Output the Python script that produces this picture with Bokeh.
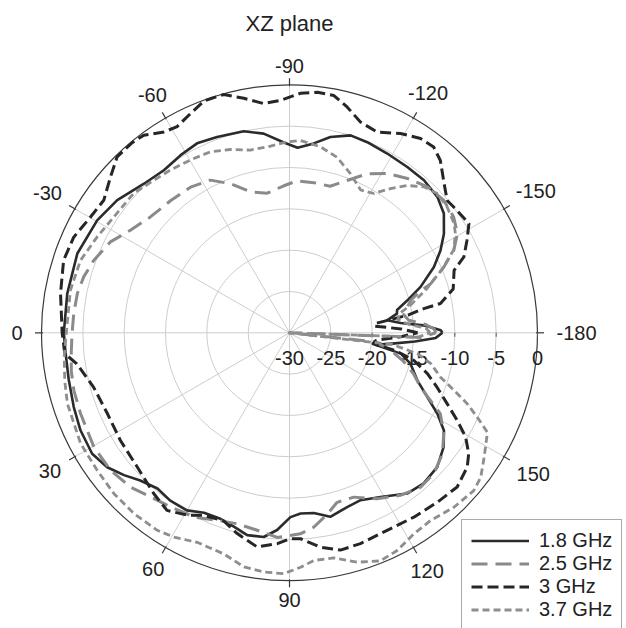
import numpy as np
from bokeh.plotting import figure
from bokeh.models import Range1d, Legend, LegendItem
from bokeh.core.properties import value
from bokeh.embed import file_html
from bokeh.resources import INLINE

# ---------------- data ----------------
title_text = "XZ plane"
r_ticks = [-30, -25, -20, -15, -10, -5, 0]
angle_ticks = [0, -30, -60, -90, -120, -150, -180, 150, 120, 90, 60, 30]
series_names = ["1.8 GHz", "2.5 GHz", "3 GHz", "3.7 GHz"]

theta_18 = [-180, -179, -177, -175, -172.7, -169.9, -168, -164.6, -160.7, -155.5,
            -151.4, -147.3, -142.3, -137.4, -131.4, -125.4, -118.6, -112.2, -107.2, -101.8,
            -97.3, -92.5, -88.5, -82.6, -77.2, -69.7, -64, -58.5, -52.3, -45.7,
            -37.6, -30.3, -20.5, -10, 0, 5, 12, 19, 25, 31.5,
            36.4, 40.7, 44.7, 49.7, 54.6, 60, 64.6, 69.6, 74, 78.2,
            82.8, 86.4, 90.3, 93.5, 97.7, 102.5, 108.3, 113, 119, 126.2,
            131.7, 137.7, 143.5, 147.7, 151.3, 155, 159.6, 165.7, 169.4, 172,
            174, 176, 178, 180]
db_18 = [-11.5, -11.7, -13.5, -16.5, -18.1, -16.8, -16.7, -15.2, -13.2, -10.8,
         -9.2, -7.8, -6.4, -5.7, -5.4, -5.4, -5.3, -5.1, -5.0, -5.8,
         -6.9, -7.6, -7.0, -5.7, -5.0, -4.75, -4.5, -4.8, -5.15, -4.8,
         -3.7, -3.05, -2.6, -2.7, -2.7, -2.8, -2.7, -2.4, -2.1, -2.0,
         -2.6, -3.6, -4.6, -5.3, -5.1, -5.2, -5.9, -6.0, -5.6, -5.0,
         -5.1, -6.1, -7.7, -8.1, -8.0, -7.2, -7.8, -8.0, -7.3, -5.9,
         -5.6, -5.85, -6.8, -7.9, -9.6, -11.6, -13.5, -14.9, -16.3, -19.5,
         -17.5, -14.8, -12.3, -11.5]

theta_25 = [-180, -178.5, -176.5, -174, -171, -168, -165, -162.9, -160.8, -156.9,
            -153.3, -149.4, -144.8, -139.4, -133.4, -127.4, -121.5, -116, -110.7, -105.5,
            -99.2, -92.8, -87.8, -80.9, -74.5, -68.4, -62.6, -55.8, -48.1, -39.8,
            -32.8, -26.9, -20.3, -15.2, -10.5, -5.1, 0, 5, 10, 15,
            21.2, 30.3, 37.6, 44.2, 49.8, 55.7, 62.6, 69, 74.7, 80.7,
            86.6, 93.1, 97.1, 101.8, 105.7, 111.4, 117.8, 124.3, 130.3, 135.7,
            141.6, 146.8, 151.8, 154.4, 157.4, 161.7, 166, 170, 174, 176.5,
            178, 180]
db_25 = [-12.3, -12.5, -13.5, -15.5, -16.0, -15.5, -14.8, -13.8, -11.9, -9.7,
         -7.75, -6.4, -5.7, -5.4, -5.7, -6.5, -7.4, -8.6, -10.3, -11.6,
         -11.6, -11.6, -12.2, -12.9, -12.3, -10.6, -9.2, -8.7, -8.5, -8.1,
         -7.1, -5.7, -4.75, -4.2, -3.9, -3.8, -3.7, -3.5, -3.2, -3.0,
         -2.9, -2.6, -2.7, -3.2, -4.0, -4.5, -4.9, -5.7, -6.05, -5.8,
         -5.2, -5.65, -6.3, -7.6, -8.7, -8.65, -7.3, -6.2, -5.5, -5.6,
         -6.4, -7.7, -9.3, -11.1, -12.8, -14.2, -15.8, -17.5, -19.5, -40,
         -14.0, -12.3]

theta_30 = [-180, -178, -175.5, -173.8, -171.5, -169.8, -169, -165, -159.2, -156.5,
            -152.5, -148.7, -143.9, -140, -136, -131.2, -127.8, -124, -119.1, -113.6,
            -108.6, -104.3, -100.6, -96.6, -92.6, -87.8, -83.6, -79, -74.6, -69.8,
            -65.7, -61.4, -58, -53.6, -50.4, -45.6, -41, -35.5, -30.2, -23.9,
            -17.8, -9.7, 0, 5.3, 8.3, 15.5, 23.9, 32.5, 41.4, 49.8,
            55.4, 60.7, 64.8, 70.7, 75.4, 81.4, 86.7, 90.3, 93.1, 98.2,
            103.2, 108.6, 116.3, 124, 131.1, 137.4, 142.9, 146, 149.4, 152.4,
            155.8, 159.8, 163.5, 167.5, 170.5, 172.5, 175, 178, 180]
db_30 = [-14.5, -16.5, -19.7, -19.5, -15.5, -13.5, -11.4, -9.5, -8.7, -7.0,
         -5.8, -4.6, -4.9, -5.1, -4.0, -2.3, -1.55, -1.65, -2.4, -3.5,
         -3.1, -1.8, -0.8, -0.7, -1.0, -1.85, -2.1, -1.1, -0.1, -0.1,
         -0.9, -1.6, -1.35, -0.3, -0.15, -0.2, -1.3, -2.4, -2.15, -1.45,
         -1.3, -1.9, -2.5, -2.7, -4.0, -5.4, -5.9, -5.75, -5.45, -4.55,
         -3.9, -4.7, -5.6, -5.9, -4.9, -3.8, -4.45, -5.1, -5.05, -3.8,
         -3.0, -3.1, -3.35, -3.1, -2.8, -2.45, -3.05, -3.85, -5.25, -7.1,
         -9.1, -11.0, -12.6, -14.6, -17.0, -19.8, -19.5, -16.5, -14.5]

theta_37 = [-180, -178, -176, -173, -170, -167.2, -162.4, -157.4, -153.1, -149,
            -146.4, -141.4, -136.7, -132.6, -128.6, -125, -121.2, -116.5, -111, -105.2,
            -99.5, -93.3, -89.3, -84.2, -77.9, -72.1, -66.4, -60.1, -53.8, -48.3,
            -41.8, -33.4, -26.5, -19.1, -11, 0, 6, 12, 17.7, 27.9,
            35.6, 42.5, 49.3, 56.2, 60.5, 66.2, 73.4, 79, 83.9, 88.6,
            92.7, 96.1, 101.1, 106.4, 111.7, 116.3, 121.7, 126.9, 133.3, 139.4,
            142.9, 146.7, 150.5, 153.3, 155.8, 158.3, 160.7, 163.7, 167.7, 170.7,
            173.5, 176, 178, 180]
db_37 = [-13.0, -13.5, -15.5, -16.8, -16.5, -15.0, -12.65, -10.0, -7.7, -6.6,
         -6.1, -5.6, -5.45, -6.0, -7.2, -8.7, -10.3, -10.7, -9.4, -8.0,
         -7.2, -6.7, -6.9, -7.3, -7.4, -6.7, -6.1, -5.9, -5.6, -5.3,
         -4.7, -4.55, -4.0, -3.24, -3.0, -3.0, -2.6, -2.2, -1.8, -1.4,
         -1.4, -1.2, -1.15, -1.25, -1.6, -2.3, -2.1, -1.15, -0.9, -0.85,
         -1.6, -2.3, -2.26, -1.07, -0.3, -0.62, -1.4, -1.6, -1.0, -0.65,
         -1.0, -1.9, -2.7, -3.2, -5.1, -6.9, -8.9, -11.0, -12.5, -14.3,
         -17.5, -40, -14.5, -13.0]

# ---------------- geometry ----------------
R_MIN = r_ticks[0]
R_SPAN = r_ticks[-1] - r_ticks[0]       # 30 dB
W, H = 626, 628
PX = 248.0 / R_SPAN                      # pixels per dB
CX, CY = 289.0, 332.3                    # centre in canvas pixels (from top-left)
FONT = "Liberation Sans"
TXT = "#222222"


def to_xy(theta, db):
    r = np.clip(np.asarray(db, dtype=float) - R_MIN, 0, None)
    phi = np.radians(180.0 + np.asarray(theta, dtype=float))
    return r * np.cos(phi), r * np.sin(phi)


p = figure(width=W, height=H, output_backend="svg", toolbar_location=None,
           x_range=Range1d(-CX / PX, (W - CX) / PX),
           y_range=Range1d(-(H - CY) / PX, CY / PX),
           x_axis_type=None, y_axis_type=None, title=None, min_border=0)
p.grid.visible = False
p.outline_line_color = None
p.background_fill_color = "white"

# circles
for t in r_ticks[1:-1]:
    p.circle(x=0, y=0, radius=t - R_MIN, fill_color=None, line_color="#cdcdcd", line_width=1)
p.circle(x=0, y=0, radius=R_SPAN, fill_color=None, line_color="#3a3a3a", line_width=1.2)

# spokes and outer ticks
for a in angle_ticks:
    phi = np.radians(180.0 + a)
    c, s = np.cos(phi), np.sin(phi)
    p.line([0, R_SPAN * c], [0, R_SPAN * s], line_color="#cdcdcd", line_width=1)
    r0, r1 = R_SPAN - 1.5 / PX, R_SPAN + 6.5 / PX
    p.line([r0 * c, r1 * c], [r0 * s, r1 * s], line_color="#3a3a3a", line_width=1.2)

# small ticks on the radial axis
for t in r_ticks[1:]:
    x = t - R_MIN
    p.line([x, x], [0, -4 / PX], line_color="#555555", line_width=1)

# angle labels
lab_x, lab_y, lab_t = [], [], []
for a in angle_ticks:
    txt = str(a)
    w = 20 * (0.333 * txt.count("-") + 0.556 * sum(ch.isdigit() for ch in txt))
    phi = np.radians(180.0 + a)
    rp = 267 + 0.5 * w * abs(np.cos(phi))
    lab_x.append(rp * np.cos(phi) / PX)
    lab_y.append(rp * np.sin(phi) / PX)
    lab_t.append(txt)
p.text(x=lab_x, y=lab_y, text=lab_t, text_font=value(FONT), text_font_size="20px",
       text_color=TXT, text_align="center", text_baseline="middle")

# radial labels
p.text(x=[t - R_MIN for t in r_ticks], y=[-25 / PX] * len(r_ticks),
       text=[str(t) for t in r_ticks], text_font=value(FONT), text_font_size="20px",
       text_color=TXT, text_align="center", text_baseline="middle")

# title
p.text(x=[0], y=[(CY - 23) / PX], text=[title_text], text_font=value(FONT),
       text_font_size="22px", text_color=TXT, text_align="center", text_baseline="middle")

# series
styles = [
    dict(line_color="#2b2b2b", line_width=2.6, line_dash="solid"),
    dict(line_color="#8a8a8a", line_width=3.0, line_dash="16 8"),
    dict(line_color="#262626", line_width=3.0, line_dash="11 5"),
    dict(line_color="#8e8e8e", line_width=2.8, line_dash="7 4"),
]
datasets = [(theta_18, db_18), (theta_25, db_25), (theta_30, db_30), (theta_37, db_37)]
renderers = []
for (th, db), st in zip(datasets, styles):
    x, y = to_xy(th, db)
    r = p.line(x=x, y=y, line_join="round", **st)
    renderers.append(r)

legend = Legend(items=[LegendItem(label=n, renderers=[r]) for n, r in zip(series_names, renderers)],
                location=(461, -3), orientation="vertical",
                label_text_font=FONT, label_text_font_size="20px", label_text_color=TXT,
                glyph_width=58, glyph_height=23, label_height=23, label_standoff=10,
                spacing=0, padding=9, margin=0,
                border_line_color="#555555", border_line_width=1,
                background_fill_color="white", background_fill_alpha=1.0)
p.add_layout(legend)

open("out.html", "w").write(file_html(p, INLINE))
